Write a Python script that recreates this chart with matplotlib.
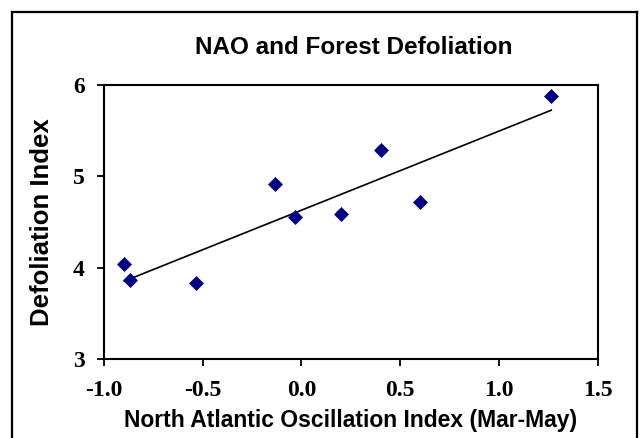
import numpy as np
import matplotlib
matplotlib.use("Agg")
import matplotlib.pyplot as plt
from matplotlib.lines import Line2D

# values
nao = [-0.897, -0.868, -0.534, -0.134, -0.033, 0.198, 0.401, 0.598, 1.265]
defol = [4.034, 3.862, 3.826, 4.913, 4.548, 4.584, 5.285, 4.716, 5.876]
xticks = [-1.0, -0.5, 0.0, 0.5, 1.0, 1.5]
xtick_labels = ["-1.0", "-0.5", "0.0", "0.5", "1.0", "1.5"]
yticks = [3, 4, 5, 6]

W, H = 641, 438
fig = plt.figure(figsize=(W / 100, H / 100), dpi=100)
ax = fig.add_axes([104 / W, 1 - 359 / H, (597.7 - 104) / W, (359 - 84.7) / H])

ax.plot(nao, defol, linestyle="none", marker="D", markersize=7.2,
        color="#000080", markeredgewidth=0.5, zorder=3)

# linear trendline over the data range (Excel style)
k, b = np.polyfit(nao, defol, 1)
xs = np.array([min(nao), max(nao)])
ax.plot(xs, k * xs + b, color="black", linewidth=1.2, zorder=2)

ax.set_xlim(-1.0, 1.5)
ax.set_ylim(3, 6)
ax.set_xticks(xticks)
ax.set_xticklabels(xtick_labels)
ax.set_yticks(yticks)

for s in ax.spines.values():
    s.set_linewidth(1.5)
ax.tick_params(direction="out", length=5, width=1.3, colors="black")
ax.tick_params(axis="x", pad=10)
ax.tick_params(axis="y", pad=9)
for lab in ax.get_xticklabels() + ax.get_yticklabels():
    lab.set_family("Liberation Serif")
    lab.set_fontweight("bold")
    lab.set_fontsize(17)

ax.set_xlabel("North Atlantic Oscillation Index (Mar-May)", family="Liberation Sans",
              fontweight="bold", fontsize=16.5)
ax.xaxis.set_label_coords(0.5, -(421 - 359) / (359 - 84.7))
ax.set_ylabel("Defoliation Index", family="Liberation Sans", fontweight="bold", fontsize=18.5)
ax.yaxis.set_label_coords(-(104 - 42) / (597.7 - 104), 0.5)
for lab in (ax.xaxis.label, ax.yaxis.label):
    lab.set_va("center")

fig.text(354 / W, 1 - 47 / H, "NAO and Forest Defoliation", family="Liberation Sans",
         fontweight="bold", fontsize=17.5, ha="center", va="center")

# outer chart frame (open at the bottom edge of the picture)
lx, rx, ty = 12 / W, 637 / W, 1 - 12 / H
for xd, yd in [([lx, lx], [0, ty]), ([lx, rx], [ty, ty]), ([rx, rx], [ty, 0])]:
    fig.add_artist(Line2D(xd, yd, transform=fig.transFigure, color="black", linewidth=1.6))

fig.savefig("out.png", dpi=100)
